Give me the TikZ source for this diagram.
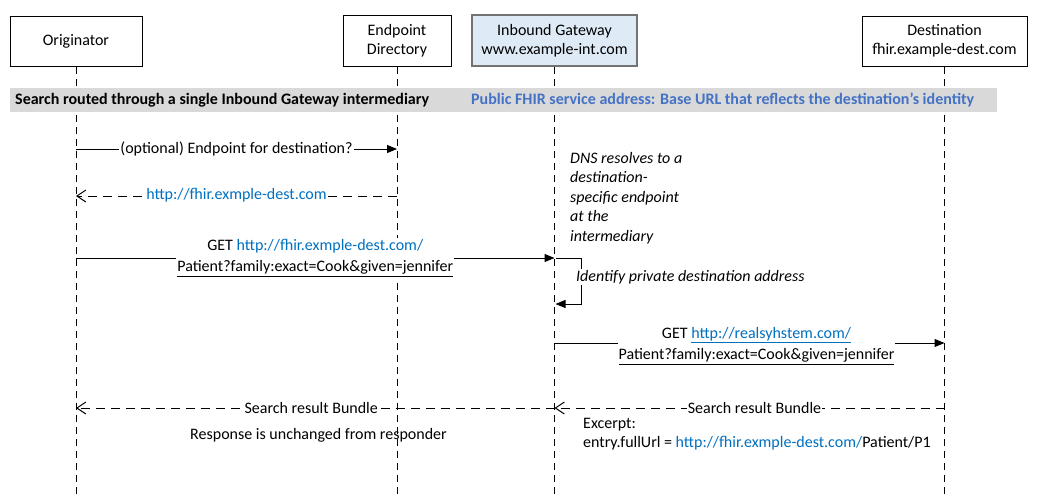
\documentclass[tikz,border=0pt]{standalone}
\usepackage{fontspec}
\setmainfont{Carlito}
\usetikzlibrary{arrows.meta, positioning, calc}

\definecolor{linkblue}{RGB}{0,112,192}
\definecolor{headblue}{RGB}{68,114,196}
\definecolor{gwfill}{RGB}{222,234,246}
\definecolor{bandgray}{RGB}{217,217,217}

\begin{document}
\begin{tikzpicture}[
    x=1pt, y=-1pt,
    % Node styles
    actor/.style={
        rectangle, draw=black, line width=1pt, fill=white,
        minimum height=50pt, inner sep=0pt, align=center,
        font=\fontsize{16}{19}\selectfont
    },
    gwactor/.style={
        actor, draw=black!55, line width=1.6pt, fill=gwfill
    },
    lbl/.style={
        fill=white, inner sep=1pt, align=center,
        font=\fontsize{16}{21}\selectfont
    },
    note/.style={
        inner sep=0pt, align=left,
        font=\fontsize{16}{19.5}\selectfont
    },
    % Line styles
    lifeline/.style={
        line width=1pt, dash pattern=on 7pt off 5pt
    },
    msg/.style={
        -{Triangle[length=10pt, width=8pt]}, line width=1pt
    },
    reply/.style={
        -{Straight Barb[length=9pt, width=12pt]}, line width=1pt,
        dash pattern=on 9pt off 6pt
    }
]
\useasboundingbox (0,0) rectangle (1041,498);

% --- Actors ---
\node[actor, minimum width=132pt] (orig) at (76,41) {Originator};
\node[actor, minimum width=108pt, minimum height=51pt] (dir) at (397,40.5) {Endpoint\\Directory};
\node[gwactor, minimum width=165pt, minimum height=51pt] (gw) at (554.5,40.5) {Inbound Gateway\\www.example-int.com};
\node[actor, minimum width=165pt] (dest) at (944.5,41) {Destination\\fhir.example-dest.com};

% --- Lifelines ---
\draw[lifeline] (orig.south) -- (orig |- 0,498);
\draw[lifeline] (dir.south) -- (dir |- 0,498);
\draw[lifeline] (gw.south) -- (gw |- 0,498);
\draw[lifeline] (dest.south) -- (dest |- 0,498);

% --- Section band ---
\fill[bandgray] (10,88) rectangle (997,112);
\node[note, anchor=west, font=\fontsize{16}{19}\selectfont\bfseries] (band) at (15,100)
    {Search routed through a single Inbound Gateway intermediary};
\node[note, anchor=west, text=headblue, font=\fontsize{16}{19}\selectfont\bfseries] (bandnote) at (471,100)
    {Public FHIR service address: Base URL that reflects the destination's identity};

% --- Messages ---
\draw[msg] (orig |- 0,149) -- (dir |- 0,149)
    node[lbl, midway] (m1) {(optional) Endpoint for destination?};
\draw[reply] (dir |- 0,196) -- (orig |- 0,196)
    node[lbl, midway, yshift=1pt, text=linkblue] (m2) {http://fhir.exmple-dest.com};
\draw[msg] (orig |- 0,258) -- (gw |- 0,258)
    node[lbl, midway] (m3) {GET \textcolor{linkblue}{http://fhir.exmple-dest.com/}\\
    \underline{Patient?family:exact=Cook\&given=jennifer}};

% DNS note
\node[note, anchor=north west, font=\fontsize{16}{19.5}\selectfont\itshape] (dns) at (570,152)
    {DNS resolves to a\\destination-\\specific endpoint\\at the\\intermediary};

% Self message
\coordinate (selfa) at ($(gw |- 0,258)+(1,0)$);
\coordinate (selfb) at ($(gw |- 0,304)+(1,0)$);
\draw[msg] (selfa) -- ++(26,0) |- (selfb);
\node[note, anchor=west, fill=white, inner sep=1pt, font=\fontsize{16}{19}\selectfont\itshape] (ident) at (575,277)
    {Identify private destination address};

\draw[msg] (gw |- 0,343) -- (dest |- 0,343)
    node[lbl, midway, xshift=7pt, yshift=-3pt] (m4) {GET \textcolor{linkblue}{\underline{http://realsyhstem.com/}}\\
    \underline{Patient?family:exact=Cook\&given=jennifer}};
\draw[reply] (dest |- 0,408) -- (gw |- 0,408)
    node[lbl, midway, xshift=5pt] (m5) {Search result Bundle};
\draw[reply] (gw |- 0,408) -- (orig |- 0,408)
    node[lbl, midway, xshift=-4pt] (m6) {Search result Bundle};

% --- Notes below ---
\node[note] (unchanged) at (318.5,435) {Response is unchanged from responder};
\node[note, anchor=north west] (excerpt) at (583,418)
    {Excerpt:\\entry.fullUrl = \textcolor{linkblue}{http://fhir.exmple-dest.com/}Patient/P1};

\end{tikzpicture}
\end{document}
